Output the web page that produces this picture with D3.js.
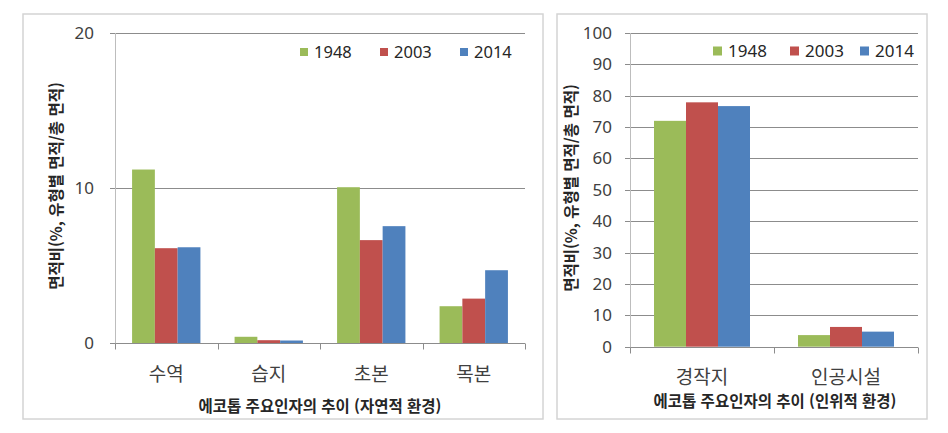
<!DOCTYPE html>
<html lang="ko">
<head>
  <meta charset="UTF-8" />
  <title>에코톱 주요인자의 추이</title>
  <style>
  body {
    margin: 0;
    background: #fff;
  }
  svg {
    display: block;
  }
  .grid line {
    stroke: #8c8c8c;
    stroke-width: 1;
  }
  .tick-label {
    font-family: 'Noto Sans', 'DejaVu Sans', sans-serif;
    fill: #404040;
  }
  .cat-label {
    font-family: 'Noto Sans CJK KR', sans-serif;
    fill: #404040;
  }
  .axis-title {
    font-family: 'Noto Sans CJK KR', sans-serif;
    font-weight: bold;
    fill: #262626;
  }
  .legend-text {
    font-family: 'Noto Sans', 'DejaVu Sans', sans-serif;
    fill: #262626;
  }
  </style>
</head>
<body>
<div id="chart"></div>
<script src="https://cdn.jsdelivr.net/npm/d3@7"></script>
<script>
  const years = ["1948", "2003", "2014"];
  const colors = ["#9bbb59", "#c0504d", "#4f81bd"];

  // 자연적 환경
  const naturalCategories = ["수역", "습지", "초본", "목본"];
  const natural1948 = [11.2, 0.42, 10.06, 2.39];
  const natural2003 = [6.13, 0.2, 6.65, 2.88];
  const natural2014 = [6.19, 0.18, 7.55, 4.71];
  const naturalTicks = [0, 10, 20];

  // 인위적 환경
  const humanCategories = ["경작지", "인공시설"];
  const human1948 = [72.0, 3.7];
  const human2003 = [77.9, 6.3];
  const human2014 = [76.7, 4.8];
  const humanTicks = [0, 10, 20, 30, 40, 50, 60, 70, 80, 90, 100];

  const yTitle = "면적비(%, 유형별 면적/총 면적)";

  const svg = d3.select("#chart").append("svg")
    .attr("width", 948)
    .attr("height", 433);

  function drawPanel(p) {
    // outer frame
    svg.append("rect")
      .attr("x", p.frame[0]).attr("y", p.frame[1])
      .attr("width", p.frame[2]).attr("height", p.frame[3])
      .attr("fill", "none")
      .attr("stroke", "#d4d4d4")
      .attr("stroke-width", 1.5);

    const g = svg.append("g");
    const y = d3.scaleLinear().domain([0, p.max]).range([p.bottom, p.top]);
    const x = d3.scaleBand().domain(p.categories).range([p.left, p.right]).padding(0);
    const xSub = d3.scaleBand().domain(years).range([0, x.bandwidth()])
      .paddingInner(0).paddingOuter(0.75);

    // grid lines + y ticks
    const grid = g.append("g").attr("class", "grid");
    grid.selectAll("line").data(p.ticks).join("line")
      .attr("x1", p.left - 5)
      .attr("x2", d => d === 0 ? p.left : p.right)
      .attr("y1", d => Math.round(y(d)) + 0.5)
      .attr("y2", d => Math.round(y(d)) + 0.5);

    g.selectAll(".tick-label").data(p.ticks).join("text")
      .attr("class", "tick-label")
      .attr("x", p.left - p.labelGap)
      .attr("y", d => y(d))
      .attr("dy", "0.35em")
      .attr("text-anchor", "end")
      .style("font-size", p.tickSize + "px")
      .text(d => d);

    // bars
    const rows = p.categories.map((c, i) => ({
      cat: c,
      values: p.series.map((s, j) => ({ year: years[j], value: s[i], color: colors[j] }))
    }));
    const groups = g.selectAll(".group").data(rows).join("g")
      .attr("class", "group")
      .attr("transform", d => `translate(${x(d.cat)},0)`);
    groups.selectAll("rect").data(d => d.values).join("rect")
      .attr("x", d => xSub(d.year))
      .attr("width", xSub.bandwidth())
      .attr("y", d => y(d.value))
      .attr("height", d => y(0) - y(d.value))
      .attr("fill", d => d.color);

    // axes lines
    const axisY = Math.round(y(0)) + 0.5;
    g.append("line")
      .attr("x1", p.left).attr("x2", p.right)
      .attr("y1", axisY).attr("y2", axisY)
      .attr("stroke", "#8c8c8c");
    g.append("line")
      .attr("x1", Math.round(p.left) + 0.5).attr("x2", Math.round(p.left) + 0.5)
      .attr("y1", p.top).attr("y2", axisY)
      .attr("stroke", "#bdbdbd");
    const bounds = p.categories.map(c => x(c)).concat([p.right]);
    g.selectAll(".xtick").data(bounds).join("line")
      .attr("class", "xtick")
      .attr("x1", d => Math.round(d) + 0.5).attr("x2", d => Math.round(d) + 0.5)
      .attr("y1", axisY).attr("y2", axisY + 6)
      .attr("stroke", "#8c8c8c");

    // category labels
    g.selectAll(".cat-label").data(p.categories).join("text")
      .attr("class", "cat-label")
      .attr("x", d => x(d) + x.bandwidth() / 2)
      .attr("y", p.catY)
      .attr("dy", "0.35em")
      .attr("text-anchor", "middle")
      .style("font-size", "19px")
      .text(d => d);

    // titles
    g.append("text")
      .attr("class", "axis-title")
      .attr("x", p.xTitle[0]).attr("y", p.xTitle[1])
      .attr("dy", "0.35em")
      .attr("text-anchor", "middle")
      .style("font-size", "15.5px")
      .text(p.xTitleText);

    g.append("text")
      .attr("class", "axis-title")
      .attr("transform", `translate(${p.yTitle[0]},${p.yTitle[1]}) rotate(-90)`)
      .attr("dy", "0.35em")
      .attr("text-anchor", "middle")
      .style("font-size", "15.5px")
      .text(yTitle);

    // legend
    const leg = g.selectAll(".legend").data(years).join("g")
      .attr("class", "legend")
      .attr("transform", (d, i) => `translate(${p.legendX[i]},${p.legendY})`);
    leg.append("rect")
      .attr("x", 0).attr("y", -p.legendBox / 2)
      .attr("width", p.legendBox).attr("height", p.legendBox)
      .attr("fill", (d, i) => colors[i]);
    leg.append("text")
      .attr("class", "legend-text")
      .attr("x", p.legendBox + 6)
      .attr("dy", "0.35em")
      .style("font-size", p.legendSize + "px")
      .text(d => d);
  }

  drawPanel({
    frame: [23, 14, 520, 405],
    categories: naturalCategories,
    series: [natural1948, natural2003, natural2014],
    ticks: naturalTicks,
    max: 20,
    left: 115, right: 525, top: 33, bottom: 343.3,
    labelGap: 21, tickSize: 17,
    catY: 374,
    xTitle: [320, 407], xTitleText: "에코톱 주요인자의 추이 (자연적 환경)",
    yTitle: [57, 186],
    legendX: [300, 380, 460], legendY: 52, legendBox: 8, legendSize: 16.5
  });

  drawPanel({
    frame: [557, 14, 370, 405],
    categories: humanCategories,
    series: [human1948, human2003, human2014],
    ticks: humanTicks,
    max: 100,
    left: 630, right: 918, top: 33, bottom: 346.7,
    labelGap: 18, tickSize: 17,
    catY: 377,
    xTitle: [775, 402], xTitleText: "에코톱 주요인자의 추이 (인위적 환경)",
    yTitle: [572, 188],
    legendX: [713, 790, 860], legendY: 51, legendBox: 9, legendSize: 17
  });
</script>
</body>
</html>
